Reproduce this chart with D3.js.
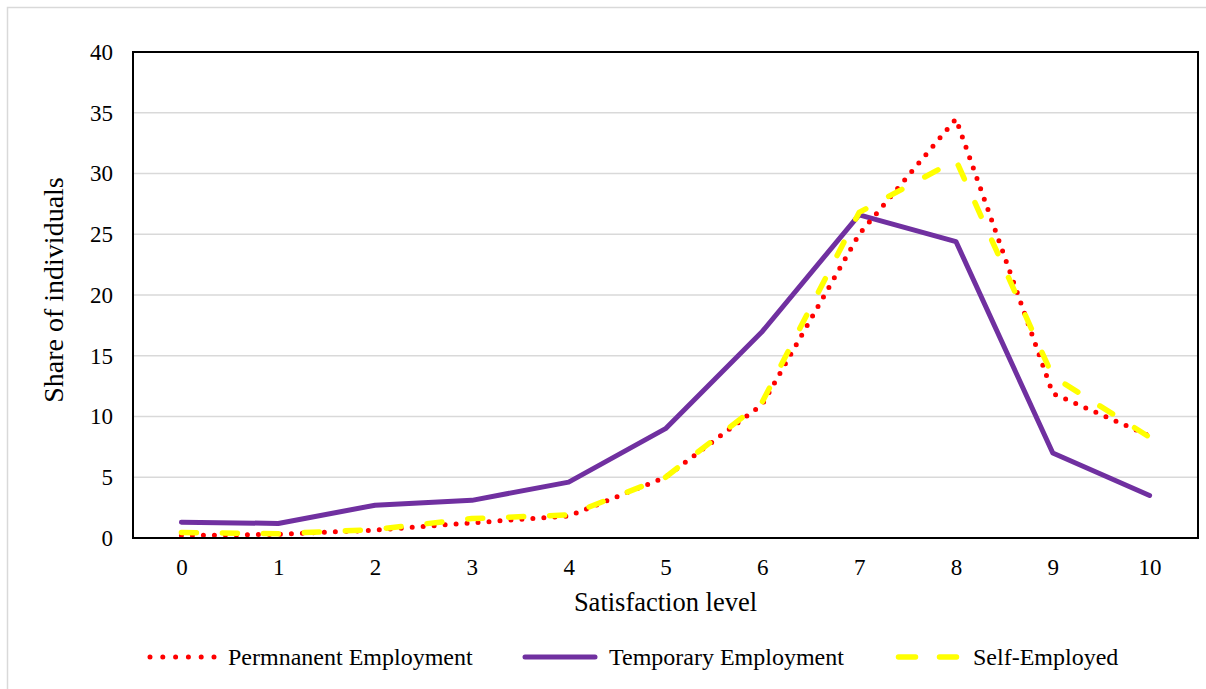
<!DOCTYPE html>
<html>
<head>
<meta charset="utf-8">
<script src="https://cdn.jsdelivr.net/npm/d3@7/dist/d3.min.js"></script>
<style>
  html, body { margin: 0; padding: 0; background: #fff; }
  svg { display: block; }
  svg text { font-family: "Liberation Serif", "Times New Roman", serif; fill: #000; }
</style>
</head>
<body>
<svg id="chart" width="1206" height="689"></svg>
<script>
// Satisfaction level categories and share of individuals (%) by employment type
const levels = ["0", "1", "2", "3", "4", "5", "6", "7", "8", "9", "10"];
const permanent = [0.2, 0.3, 0.65, 1.25, 1.8, 5.0, 11.0, 25.0, 34.5, 11.9, 8.4];
const temporary = [1.3, 1.2, 2.7, 3.1, 4.6, 9.0, 17.0, 26.6, 24.4, 7.0, 3.5];
const selfEmployed = [0.45, 0.35, 0.7, 1.6, 1.9, 5.0, 11.2, 26.8, 31.1, 13.3, 8.3];
const yTicks = [0, 5, 10, 15, 20, 25, 30, 35, 40];

const series = [
  { name: "Temporary Employment", values: temporary, color: "#7030a0", width: 5, dash: null, legendDash: null },
  { name: "Permnanent Employment", values: permanent, color: "#ff0000", width: 5, dash: "0 11", legendDash: "0 12.8" },
  { name: "Self-Employed", values: selfEmployed, color: "#ffff00", width: 5.5, dash: "15 26", legendDash: "17 24" }
];

const svg = d3.select("#chart");
const plot = { left: 133, right: 1198, top: 52, bottom: 538 };

// Outer chart border
svg.append("rect")
  .attr("x", 7.5).attr("y", 7.5)
  .attr("width", 1206).attr("height", 700)
  .attr("fill", "#fff").attr("stroke", "#d9d9d9").attr("stroke-width", 1.5);

const x = d3.scalePoint().domain(levels).range([plot.left, plot.right]).padding(0.5);
const y = d3.scaleLinear().domain([0, 40]).range([plot.bottom, plot.top]);

// Horizontal gridlines
svg.append("g")
  .selectAll("line")
  .data(yTicks.filter(t => t > 0 && t < 40))
  .join("line")
  .attr("x1", plot.left).attr("x2", plot.right)
  .attr("y1", d => y(d)).attr("y2", d => y(d))
  .attr("stroke", "#d9d9d9").attr("stroke-width", 1.5);

// Y axis labels
const yAxis = d3.axisLeft(y).tickValues(yTicks).tickSize(0).tickPadding(20).tickFormat(d3.format("d"));
const gy = svg.append("g").attr("transform", `translate(${plot.left},0)`).call(yAxis)
  .attr("font-family", null).attr("font-size", 23);
gy.select(".domain").remove();

// X axis labels
const xAxis = d3.axisBottom(x).tickSize(0).tickPadding(21);
const gx = svg.append("g").attr("transform", `translate(0,${plot.bottom})`).call(xAxis)
  .attr("font-family", null).attr("font-size", 23);
gx.select(".domain").remove();

// Series lines
const line = d3.line().x((d, i) => x(levels[i])).y(d => y(d));
svg.append("g")
  .selectAll("path")
  .data(series)
  .join("path")
  .attr("d", d => line(d.values))
  .attr("fill", "none")
  .attr("stroke", d => d.color)
  .attr("stroke-width", d => d.width)
  .attr("stroke-dasharray", d => d.dash)
  .attr("stroke-linecap", "round")
  .attr("stroke-linejoin", "round");

// Plot frame
svg.append("rect")
  .attr("x", plot.left).attr("y", plot.top)
  .attr("width", plot.right - plot.left).attr("height", plot.bottom - plot.top)
  .attr("fill", "none").attr("stroke", "#000").attr("stroke-width", 2);

// Axis titles
svg.append("text")
  .attr("x", (plot.left + plot.right) / 2).attr("y", 611)
  .attr("text-anchor", "middle").attr("font-size", 26.5)
  .text("Satisfaction level");

svg.append("text")
  .attr("transform", "translate(63,290) rotate(-90)")
  .attr("text-anchor", "middle").attr("font-size", 28)
  .text("Share of individuals");

// Legend
const legendItems = [
  { key: "Permnanent Employment", x1: 150, x2: 214.5, tx: 228 },
  { key: "Temporary Employment", x1: 525, x2: 595, tx: 609 },
  { key: "Self-Employed", x1: 898.5, x2: 958, tx: 973 }
];
const legend = svg.append("g");
legendItems.forEach(item => {
  const s = series.find(d => d.name === item.key);
  legend.append("line")
    .attr("x1", item.x1).attr("x2", item.x2)
    .attr("y1", 657).attr("y2", 657)
    .attr("stroke", s.color).attr("stroke-width", s.width)
    .attr("stroke-dasharray", s.legendDash)
    .attr("stroke-linecap", "round");
  legend.append("text")
    .attr("x", item.tx).attr("y", 665)
    .attr("font-size", 24)
    .text(item.key);
});
</script>
</body>
</html>
